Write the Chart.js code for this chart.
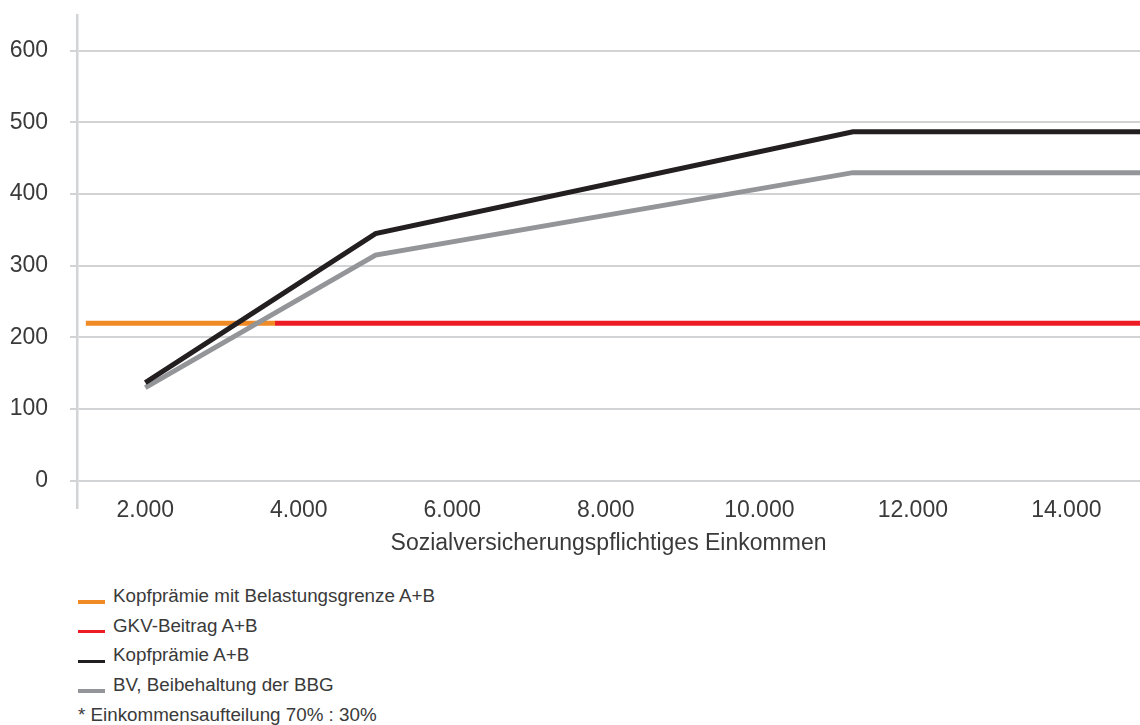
<!DOCTYPE html>
<html lang="de">
<head>
<meta charset="utf-8">
<title>Kopfprämie und GKV-Beitrag nach Einkommen</title>
<script src="https://cdn.jsdelivr.net/npm/chart.js@4.4.1/dist/chart.umd.min.js"></script>
<style>
  html, body { margin: 0; padding: 0; background: #ffffff; }
  body { width: 1140px; height: 725px; position: relative; overflow: hidden;
         font-family: "Liberation Sans", Arial, Helvetica, sans-serif; color: #3a3a3a; }
  #wrap { position: absolute; left: 0; top: 0; width: 1140px; height: 570px; }
  #legend { position: absolute; left: 78px; top: 581px; font-size: 18.8px; }
  .row { height: 29.75px; display: flex; align-items: center; white-space: nowrap; }
  .sw { display: inline-block; width: 27px; height: 3.5px; margin-right: 8px; position: relative; top: 6px; }
</style>
</head>
<body>
<div id="wrap"><canvas id="chart" width="1140" height="570"></canvas></div>
<div id="legend"></div>
<script>
// Monatliches Einkommen (Euro) und Belastung (Euro) je Variante
const belastungX = [1225, 3690];
const belastungY = [220, 220];
const gkvX = [3690, 15000];
const gkvY = [220, 220];
const kopfX = [2000, 5000, 11220, 15000];
const kopfY = [137, 345, 487, 487];
const bbgX = [2000, 5000, 11220, 15000];
const bbgY = [130, 315, 430, 430];

const seriesNames = [
  'Kopfprämie mit Belastungsgrenze A+B',
  'GKV-Beitrag A+B',
  'Kopfprämie A+B',
  'BV, Beibehaltung der BBG'
];
const seriesColors = ['#f08a25', '#ed1c24', '#231f20', '#939598'];
const footnote = '* Einkommensaufteilung 70% : 30%';

const xTicks = [2000, 4000, 6000, 8000, 10000, 12000, 14000];
const yTicks = [0, 100, 200, 300, 400, 500, 600];
const xTitle = 'Sozialversicherungspflichtiges Einkommen';

const pts = (xs, ys) => xs.map((x, i) => ({ x: x, y: ys[i] }));
const fmt = v => String(v).replace(/\B(?=(\d{3})+(?!\d))/g, '.');

const seriesData = [pts(belastungX, belastungY), pts(gkvX, gkvY), pts(kopfX, kopfY), pts(bbgX, bbgY)];
// lower order is painted on top: the rising curves lie above the flat lines
const drawOrder = [2, 3, 0, 1];

const gridColor = '#d2d3d5';
const textColor = '#3a3a3a';
const axisFont = { family: '"Liberation Sans", Arial, Helvetica, sans-serif', size: 23 };

const datasets = seriesNames.map((name, i) => ({
  label: name,
  data: seriesData[i],
  borderColor: seriesColors[i],
  backgroundColor: seriesColors[i],
  borderWidth: 5,
  borderCapStyle: 'butt',
  borderJoinStyle: 'miter',
  pointRadius: 0,
  pointHoverRadius: 0,
  tension: 0,
  fill: false,
  order: drawOrder[i]
}));

new Chart(document.getElementById('chart'), {
  type: 'line',
  data: { datasets: datasets },
  options: {
    responsive: false,
    animation: false,
    events: [],
    layout: { padding: { top: 15, left: 0, right: 0, bottom: 0 } },
    plugins: { legend: { display: false }, tooltip: { enabled: false } },
    scales: {
      x: {
        type: 'linear',
        min: 1110,
        max: 14960,
        afterBuildTicks: s => { s.ticks = xTicks.map(v => ({ value: v })); },
        afterFit: s => { s.height = 62; s.paddingLeft = 0; s.paddingRight = 0; },
        grid: { display: false, drawTicks: false },
        border: { display: false },
        // mirrored labels are not clipped to the scale box, so they may sit
        // level with the lower end of the y axis line
        ticks: { color: textColor, font: axisFont, mirror: true, padding: -16, maxRotation: 0, callback: v => fmt(v) },
        title: { display: true, text: xTitle, color: textColor, font: axisFont, padding: { top: 0, bottom: 13 } }
      },
      y: {
        type: 'linear',
        min: -38,
        max: 650,
        afterBuildTicks: s => { s.ticks = yTicks.map(v => ({ value: v })); },
        afterFit: s => { s.width = 77; s.paddingTop = 0; s.paddingBottom = 0; },
        grid: { color: gridColor, lineWidth: 2, tickLength: 7, drawTicks: true, tickColor: gridColor, tickWidth: 2 },
        border: { display: true, color: gridColor, width: 2.5 },
        ticks: { color: textColor, font: axisFont, padding: 22, callback: v => String(v) }
      }
    }
  }
});

// legend rows built from the same series definitions
const legend = document.getElementById('legend');
seriesNames.forEach((name, i) => {
  const row = document.createElement('div');
  row.className = 'row';
  const sw = document.createElement('span');
  sw.className = 'sw';
  sw.style.background = seriesColors[i];
  row.appendChild(sw);
  row.appendChild(document.createTextNode(name));
  legend.appendChild(row);
});
const note = document.createElement('div');
note.className = 'row';
note.textContent = footnote;
legend.appendChild(note);
</script>
</body>
</html>
